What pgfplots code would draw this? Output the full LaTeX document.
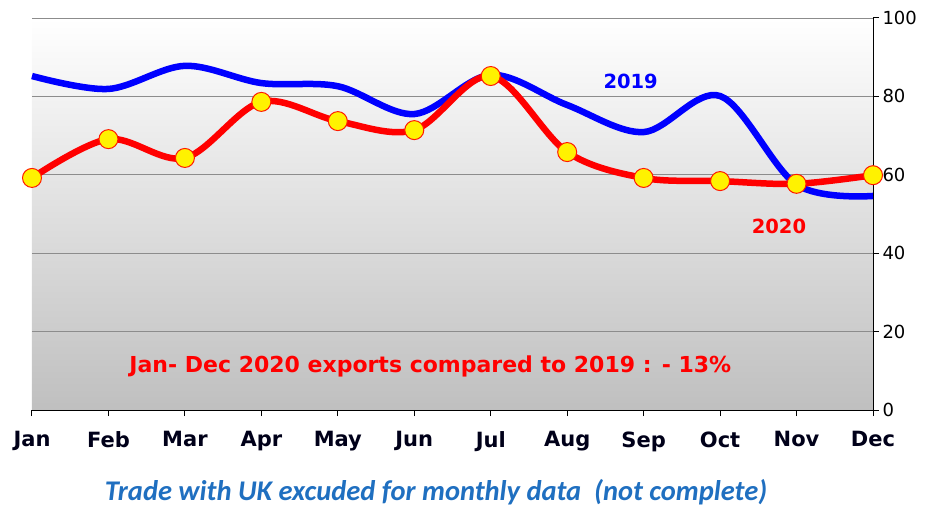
\documentclass[border=0pt]{standalone}
\usepackage{pgfplots}
\pgfplotsset{compat=1.18}
\usepackage{fontspec}
\setmainfont{DejaVu Sans}
\newfontfamily\footfont{Carlito}
\definecolor{myblue}{RGB}{0,0,255}
\definecolor{myred}{RGB}{255,0,0}
\definecolor{footblue}{RGB}{31,111,192}
\begin{document}
\begin{tikzpicture}
\begin{axis}[
  name=ax,
  scale only axis,
  width=841pt, height=392pt,
  xmin=0, xmax=11, ymin=0, ymax=100,
  axis x line*=bottom,
  axis y line*=right,
  axis line style={black, line width=1pt},
  xtick={0,...,11},
  xticklabels={Jan,Feb,Mar,Apr,May,Jun,Jul,Aug,Sep,Oct,Nov,Dec},
  ytick={0,20,40,60,80,100},
  tick align=outside,
  major tick length=6pt,
  tick style={black, line width=1pt},
  xticklabel style={font=\fontsize{21}{21}\selectfont\bfseries, yshift=-12pt, text=black!90!blue},
  yticklabel style={font=\fontsize{18}{18}\selectfont, xshift=0pt},
  /pgf/number format/assume math mode=true,
  ymajorgrids,
  grid style={black!45, line width=0.8pt},
  axis background/.style={top color=white, bottom color=black!25},
  clip=false,
]
\addplot[myblue, line width=6.5pt, smooth, tension=0.55] coordinates {
 (0,85.2) (1,81.9) (2,87.8) (3,83.4) (4,82.6) (5,75.5) (6,85.5) (7,77.8) (8,70.9) (9,80.1) (10,57.5) (11,54.6)};
\addplot[myred, line width=6.5pt, smooth, tension=0.55,
  mark=*, mark size=9.5pt, mark options={fill=yellow, draw=myred!80!orange, line width=1pt}] coordinates {
 (0,59.2) (1,69.1) (2,64.3) (3,78.6) (4,73.7) (5,71.4) (6,85.2) (7,65.8) (8,59.2) (9,58.4) (10,57.7) (11,59.9)};
\node[myred, font=\fontsize{22}{22}\selectfont\bfseries] at (axis cs:5.21,11.2) {Jan- Dec 2020 exports compared to 2019 : - 13\%};
\node[myblue, font=\fontsize{19.5}{19.5}\selectfont\bfseries] at (axis cs:7.83,83.7) {2019};
\node[myred, font=\fontsize{19.5}{19.5}\selectfont\bfseries] at (axis cs:9.77,46.9) {2020};
\end{axis}
\node[footblue, font=\footfont\fontsize{28.5}{28.5}\selectfont\bfseries\itshape, inner sep=0pt] at ([shift={(404pt,-82pt)}]ax.south west) {Trade with UK excuded for monthly data\ \ (not complete)};
\pgfresetboundingbox
\path ([shift={(-32pt,-97pt)}]ax.south west) rectangle ++(931pt,507pt);
\end{tikzpicture}
\end{document}
